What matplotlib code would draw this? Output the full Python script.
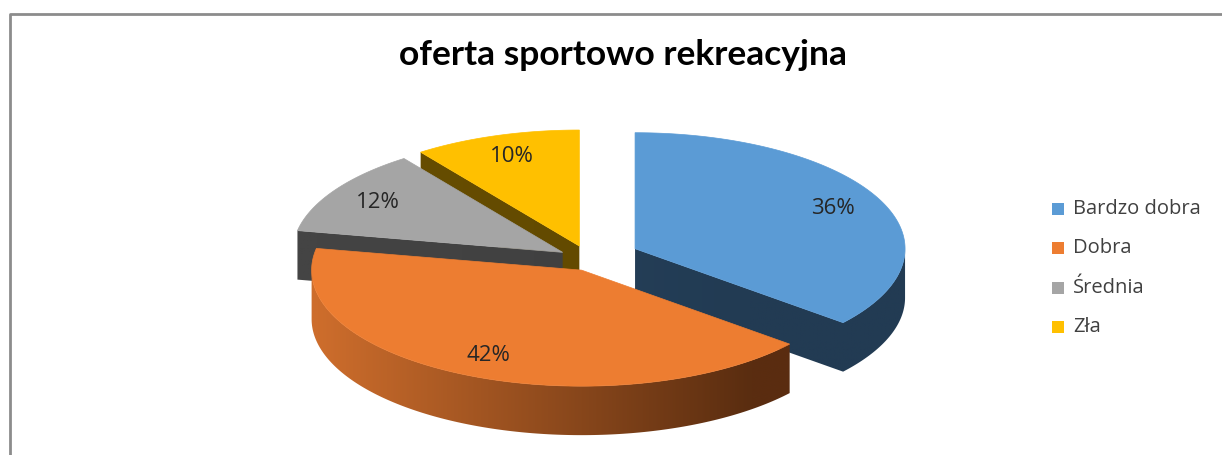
import numpy as np
import matplotlib.pyplot as plt
from matplotlib.patches import Polygon, Rectangle, PathPatch
from matplotlib.path import Path
from matplotlib.colors import to_rgb

plt.rcParams["font.family"] = ["Lato", "DejaVu Sans"]

# data
categories = ["Bardzo dobra", "Dobra", "Średnia", "Zła"]
shares = [36, 42, 12, 10]
title = "oferta sportowo rekreacyjna"

# styles
top_colors = ["#5B9BD5", "#ED7D31", "#A5A5A5", "#FFC000"]
side_light = ["#27445F", "#CD6D2C", "#444444", "#684E00"]
side_dark = ["#223B53", "#5A2D10", "#3E3E3E", "#604800"]
explode_px = [52, 15, 30, 28]

# layout in pixels (y grows downward)
W, H = 1222, 455
CX, CY = 588, 262
RX, RY = 270, 116
DEPTH = 49
EXPLODE_TILT = 0.6
LABEL_R = 0.81


def rim_point(cx, cy, deg, r=1.0):
    t = np.radians(deg)
    return cx + RX * r * np.sin(t), cy - RY * r * np.cos(t)


def ccw(face):
    # same winding for every face so shared edges don't leave a seam
    f = np.asarray(face, dtype=float)
    area = np.sum(f[:, 0] * np.roll(f[:, 1], -1) - np.roll(f[:, 0], -1) * f[:, 1])
    return f if area > 0 else f[::-1]


def shaded_sides(ax, faces, i):
    """Side faces of one slice filled with a left-to-right gradient."""
    faces = [ccw(f) for f in faces]
    pts = np.vstack(faces)
    x0, x1 = pts[:, 0].min() - 1, pts[:, 0].max() + 1
    y0, y1 = pts[:, 1].min() - 1, pts[:, 1].max() + 1
    xs = np.linspace(x0, x1, 256)
    t = np.clip((xs - (CX - RX)) / (1.6 * RX), 0, 1)[:, None]
    a, b = np.array(to_rgb(side_light[i])), np.array(to_rgb(side_dark[i]))
    img = np.repeat((a + (b - a) * t)[None, :, :], 2, axis=0)
    path = Path.make_compound_path(*[Path(np.vstack([f, f[:1]]), closed=True) for f in faces])
    outline = PathPatch(path, fc="none", ec="none")
    ax.add_patch(outline)
    im = ax.imshow(img, extent=(x0, x1, y1, y0), aspect="auto", interpolation="bilinear")
    im.set_clip_path(outline)


fig = plt.figure(figsize=(W / 100, H / 100), dpi=100)
ax = fig.add_axes([0, 0, 1, 1])

# chart frame (cropped on right and bottom)
ax.plot([10, 10, W + 5], [H + 5, 14, 14], color="#8C8C8C", lw=2, solid_capstyle="butt")

total = sum(shares)
starts = np.cumsum([0] + shares[:-1]) / total * 360
ends = np.cumsum(shares) / total * 360
mids = (starts + ends) / 2

# back to front
order = sorted(range(len(shares)), key=lambda i: -np.cos(np.radians(mids[i])))

for i in order:
    a, b, m = starts[i], ends[i], mids[i]
    tm = np.radians(m)
    cx = CX + explode_px[i] * np.sin(tm)
    cy = CY - explode_px[i] * np.cos(tm) * EXPLODE_TILT
    faces = []

    # radial walls facing the viewer
    for edge, normal in ((a, a - 90), (b, b + 90)):
        if np.cos(np.radians(normal)) < -1e-6:
            px, py = rim_point(cx, cy, edge)
            faces.append([(cx, cy), (px, py), (px, py + DEPTH), (cx, cy + DEPTH)])

    # outer rim, front half only
    lo, hi = max(a, 90), min(b, 270)
    if hi > lo:
        th = np.linspace(lo, hi, 160)
        xs, ys = rim_point(cx, cy, th)
        faces.append(list(zip(xs, ys)) + list(zip(xs[::-1], ys[::-1] + DEPTH)))

    if faces:
        shaded_sides(ax, faces, i)

    # top face
    th = np.linspace(a, b, 200)
    xs, ys = rim_point(cx, cy, th)
    top = [(cx, cy)] + list(zip(xs, ys))
    ax.add_patch(Polygon(top, closed=True, fc=top_colors[i], ec=top_colors[i], lw=0.5))

    lx, ly = rim_point(cx, cy, m, LABEL_R)
    ax.text(lx, ly, f"{shares[i]}%", ha="center", va="center", fontsize=16,
            family=["Open Sans", "DejaVu Sans"], color="#262626")

ax.text(623, 55, title, ha="center", va="center", fontsize=25.5, fontweight="bold", color="#000000")

# legend
for k, (name, col) in enumerate(zip(categories, top_colors)):
    y = 209 + k * 39.3
    ax.add_patch(Rectangle((1052, y - 6), 12, 12, fc=col, ec="none"))
    ax.text(1073, y, name, ha="left", va="center", fontsize=14.5,
            family=["Open Sans", "DejaVu Sans"], color="#404040")

ax.set_xlim(0, W)
ax.set_ylim(H, 0)
ax.axis("off")

fig.savefig("out.png", dpi=100)
